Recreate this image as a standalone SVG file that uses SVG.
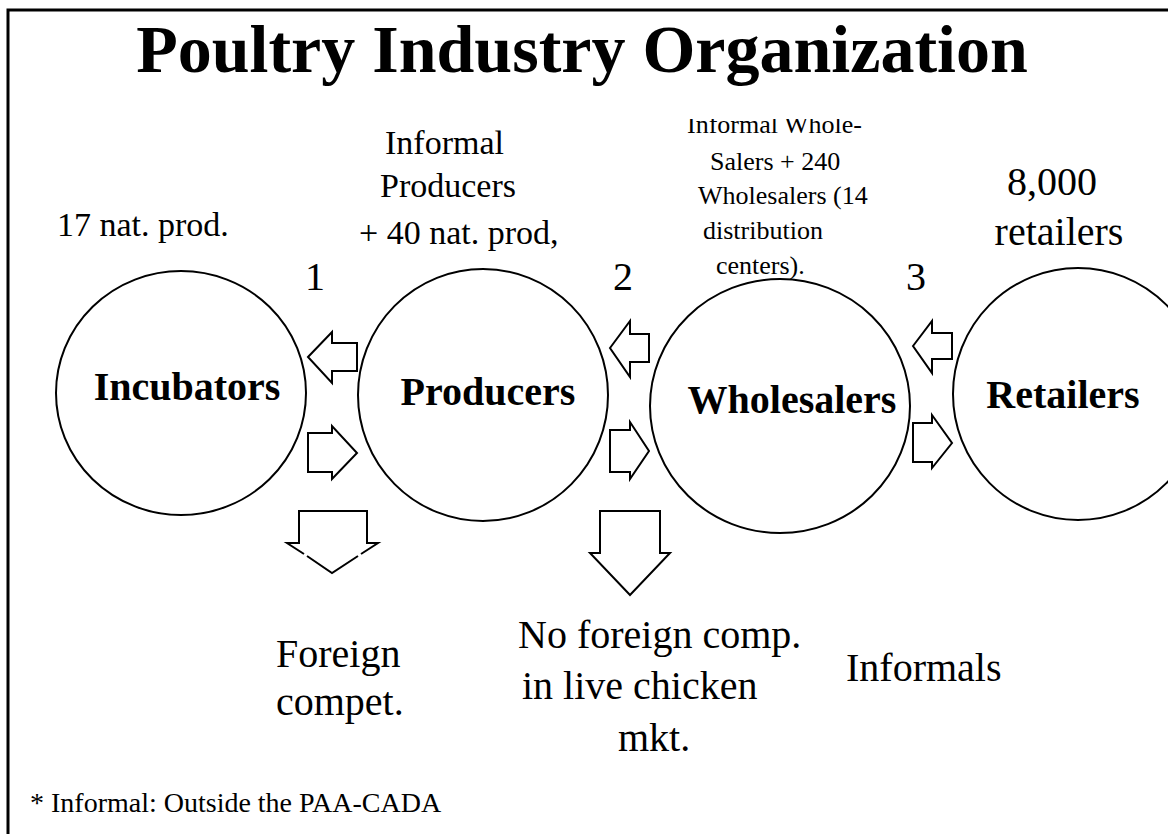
<svg xmlns="http://www.w3.org/2000/svg" width="1168" height="834" viewBox="0 0 1168 834">
  <style>
    .t { font-family: "Liberation Serif", "Times New Roman", serif; fill: #000; }
    .b { font-weight: bold; }
    .node { fill: #fff; stroke: #000; stroke-width: 2; }
    .arr { fill: #fff; stroke: #000; stroke-width: 2; stroke-linejoin: miter; }
    .fillonly { fill: #fff; stroke: none; }
    .line { fill: none; stroke: #000; stroke-width: 2; }
  </style>
  <defs>
    <clipPath id="topClip"><rect x="600" y="119" width="300" height="200"/></clipPath>
  </defs>
  <rect width="1168" height="834" fill="#fff"/>
  <!-- frame -->
  <path d="M8 834 V10 H1168" fill="none" stroke="#000" stroke-width="3"/>

  <text class="t b" x="582" y="72" font-size="68" text-anchor="middle">Poultry Industry Organization</text>

  <g id="incubators">
    <ellipse class="node" cx="181" cy="393" rx="125" ry="122"/>
    <text class="t b" x="187" y="400" font-size="40" text-anchor="middle">Incubators</text>
  </g>
  <g id="producers">
    <ellipse class="node" cx="483" cy="395" rx="125" ry="126"/>
    <text class="t b" x="488" y="405" font-size="40" text-anchor="middle">Producers</text>
  </g>
  <g id="wholesalers">
    <ellipse class="node" cx="780" cy="406" rx="130" ry="127"/>
    <text class="t b" x="792" y="413" font-size="40" text-anchor="middle">Wholesalers</text>
  </g>
  <g id="retailers">
    <ellipse class="node" cx="1078" cy="394" rx="125" ry="126"/>
    <text class="t b" x="1063" y="408" font-size="40" text-anchor="middle">Retailers</text>
  </g>

  <g id="connectors">
    <!-- incubators / producers -->
    <path class="arr" d="M308 357 L332 332 L332 343 L357 343 L357 371 L332 371 L332 383 Z"/>
    <path class="arr" d="M308 433 L332 433 L332 426 L357 453 L332 479 L332 472 L308 472 Z"/>
    <path class="fillonly" d="M299 511 L367 511 L367 543 L378 543 L332 573 L287 543 L299 543 Z"/>
    <path class="line" d="M304 554 L287 543 L299 543 L299 511 L367 511 L367 543 L378 543 L361 554 M358 556 L332 573 L307 556"/>
    <!-- producers / wholesalers -->
    <path class="arr" d="M610 348 L630 321 L630 334 L649 334 L649 362 L630 362 L630 377 Z"/>
    <path class="arr" d="M610 430 L630 430 L630 422 L649 451 L630 479 L630 472 L610 472 Z"/>
    <path class="arr" d="M600 511 L660 511 L660 553 L670 553 L630 595 L590 553 L600 553 Z"/>
    <!-- wholesalers / retailers -->
    <path class="arr" d="M913 346 L932 321 L932 333 L952 333 L952 359 L932 359 L932 373 Z"/>
    <path class="arr" d="M913 423 L932 423 L932 415 L952 443 L932 468 L932 462 L913 462 Z"/>
  </g>

  <g id="labels">
    <text class="t" x="57" y="236" font-size="34">17 nat. prod.</text>
    <text class="t" x="385" y="154" font-size="34">Informal</text>
    <text class="t" x="380" y="197" font-size="34">Producers</text>
    <text class="t" x="359" y="244" font-size="34">+ 40 nat. prod,</text>
    <text class="t" x="305" y="290" font-size="40">1</text>
    <text class="t" x="613" y="290" font-size="40">2</text>
    <text class="t" x="906" y="290" font-size="40">3</text>
    <text class="t" x="687" y="133" font-size="26" clip-path="url(#topClip)">Informal Whole-</text>
    <text class="t" x="710" y="170" font-size="26">Salers + 240</text>
    <text class="t" x="698" y="204" font-size="26">Wholesalers (14</text>
    <text class="t" x="703" y="239" font-size="26">distribution</text>
    <text class="t" x="716" y="274" font-size="26">centers).</text>
    <text class="t" x="1052" y="195" font-size="40" text-anchor="middle">8,000</text>
    <text class="t" x="1059" y="245" font-size="40" text-anchor="middle">retailers</text>
    <text class="t" x="276" y="667" font-size="40">Foreign</text>
    <text class="t" x="276" y="715" font-size="40">compet.</text>
    <text class="t" x="518" y="648" font-size="40">No foreign comp.</text>
    <text class="t" x="522" y="699" font-size="40">in live chicken</text>
    <text class="t" x="618" y="751" font-size="40">mkt.</text>
    <text class="t" x="846" y="681" font-size="40">Informals</text>
    <text class="t" x="30" y="812" font-size="28">* Informal: Outside the PAA-CADA</text>
  </g>
</svg>
